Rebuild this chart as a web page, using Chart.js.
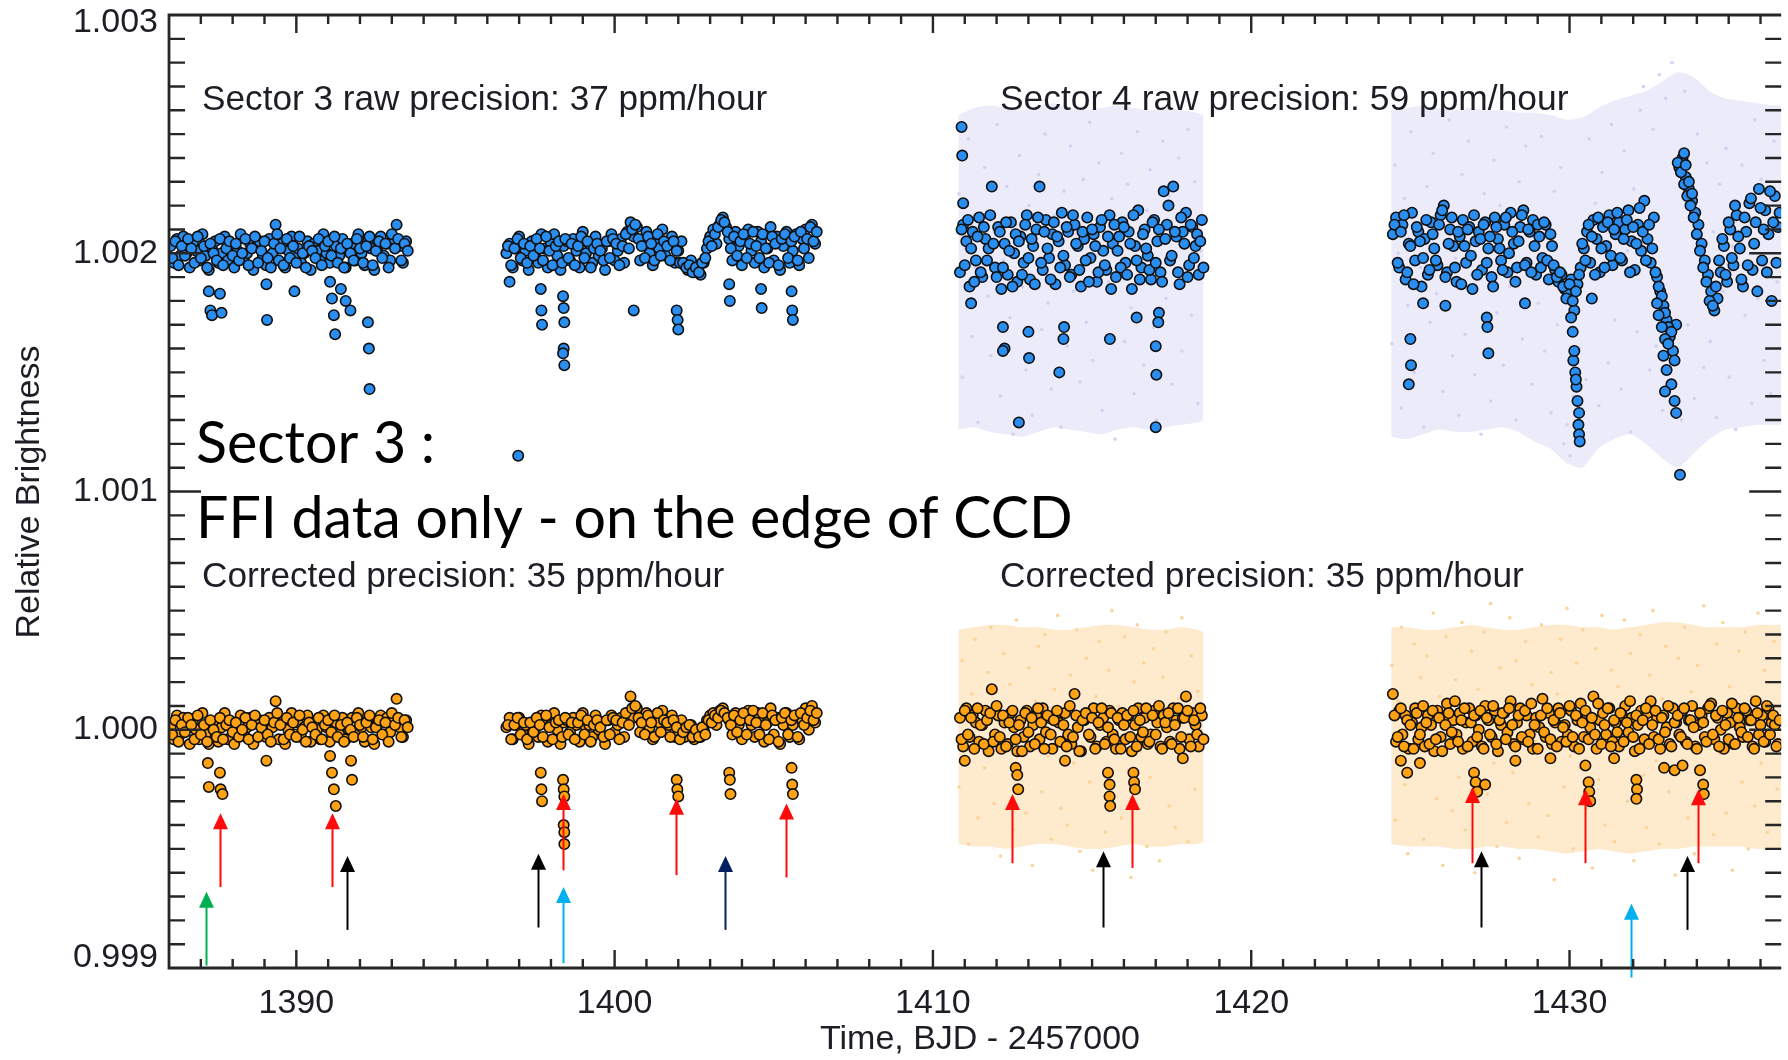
<!DOCTYPE html>
<html>
<head>
<meta charset="utf-8">
<script src="https://cdn.jsdelivr.net/npm/chart.js@4/dist/chart.umd.min.js"></script>
<style>
  html, body { margin: 0; padding: 0; background: #fff; }
  #c { display: block; }
</style>
</head>
<body>
<canvas id="c" width="1788" height="1060"></canvas>
<script>
// ---- data ----
var xTickLabels = [1390, 1400, 1410, 1420, 1430];
var yTickLabels = [0.999, 1.000, 1.001, 1.002, 1.003];

var cadence = 0.1;            // days between binned points (each array), the "Mid" arrays sit half a step later
var s3aStart = 1386.05, s3bStart = 1396.6, s4aStart = 1410.85, s4bStart = 1424.45;
var rawBase = 1.002, corBase = 1.000;

// binned offsets, units of 1e-5
var s3aRaw = [3,-4,6,-1,7,0,-6,4,1,-3, 8,-1,-7,2,5,-4,0,7,-3,4, -6,1,8,-2,0,4,-7,3,5,-1, -5,6,0,12,-3,4,-6,1,7,-1,
  2,-4,0,5,-7,4,1,-3,8,0, -4,5,3,-1,6,-6,1,4,-3,8, 0,-5,5,2,-7,1,7,-1,4,-3, 6,12,3,-4,5];
var s3aRawMid = [-2,5,-5,3,-1,6,2,-4,7,-2, 3,-6,4,0,-3,6,-5,2,5,-1, 4,-3,0,6,-5,2,7,-4,1,5, -2,-6,4,8,2,-5,6,-2,3,-4,
  7,0,-6,3,1,-2,6,-5,3,5, -1,7,-4,2,-6,4,0,-3,6,2, -4,3,7,-5,1,5,-2,4,-6,8, 2,6,-3,4,1];
var s3bRaw = [0,4,-6,2,7,-3,1,-7,5,0, -4,8,2,-6,4,8,-1,-7,3,5, -3,6,1,-6,9,0,4,-4,7,-1, 2,-7,5,8,-3,1,6,-4,9,13,
  7,11,-3,5,9,0,-5,6,2,10, -1,4,7,-4,1,5,-5,-7,-3,-8, -6,-9,-4,2,7,10,4,12,15,11, 6,-3,9,3,-5,7,10,1,-4,9,
  5,-6,2,11,-3,7,-7,3,9,-4, 1,8,-5,6,10,-2,12,4];
var s3bRawMid = [3,-5,2,6,-2,4,-4,3,-1,6, 2,-3,7,1,-5,3,5,-4,6,-2, 4,-5,3,7,-2,5,-6,2,4,1, -3,5,-2,6,4,-5,3,8,2,10,
  12,6,3,-2,7,4,-3,8,-1,5, 3,-3,5,1,-4,-4,-6,-5,-8,-6, -8,-4,-2,5,3,8,11,14,13,9, 2,7,-1,5,8,-2,4,9,3,-2,
  8,2,-4,7,4,-5,6,8,-2,5, 7,-3,9,2,6,11,5,9];
var s4aRaw = [-8,12,5,-14,9,-3,15,-10,6,2, 28,-6,11,-15,4,-9,13,0,-12,7, -4,16,-11,3,10,28,-7,14,-2,8,
  -13,5,17,-5,9,-9,12,3,-14,6, 15,-2,8,-12,11,1,-7,16,4,-10, 7,13,-4,9,-15,3,18,-6,10,-1,
  -11,14,5,-8,26,12,-3,28,7,-13, 9,17,-5,11,3,-9,14];
var s4aRawMid = [10,-5,14,2,-12,7,-8,11,-3,16, 4,-10,9,-6,13,1,-14,8,5,-9, 12,-2,6,-13,15,-4,9,2,-11,13,
  7,-6,-1,11,-10,16,4,-7,9,-3, -12,10,3,-8,14,-5,7,-15,12,1, -6,11,-9,4,16,-3,-11,8,2,-7,
  13,-4,10,-12,6,20,-1,9,-8,15, 4,-10,12,-2,8,5,-6];
var s4bRaw = [8,15,-6,12,-11,4,17,-3,9,-14, 6,-9,13,2,-5,16,20,-8,10,3, -12,7,14,-4,11,-15,5,9,-7,13,
  2,-10,15,6,-3,12,-8,17,4,-6, 11,18,-4,9,14,-9,7,-2,12,-11, 3,-7,-12,-9,-15,-17,-11,-24,-13,-6,
  2,9,-4,14,6,-8,11,3,16,-5, 8,13,-3,10,18,5,-7,12,1,22, 6,-4,15,-10,-16,-22,-28,-35,-41,-30,
  36,40,32,27,22,17,12,4,-3,-9, -16,-24,-19,-8,3,-12,10,-5,16,2, -14,9,21,-7,13,27,-3,18,8,-20,24,11];
var s4bRawMid = [12,-4,9,16,-8,3,-13,11,5,-2, 14,-7,8,-3,12,18,-10,4,15,-6, 9,-13,3,10,-1,16,-9,6,12,-4,
  7,-14,11,2,-7,15,0,9,-12,5, 16,-5,10,-8,3,12,-6,13,-3,8, -5,-10,-8,-14,-19,-13,-20,-16,-9,4,
  -3,12,7,-9,15,2,-6,13,-1,10, 17,-2,6,14,-8,11,4,19,9,-3, 12,2,-8,-14,-18,-25,-31,-33,-45,38,
  34,29,24,20,15,8,1,-6,-12,-20, -22,-14,-3,6,-9,13,-2,20,7,-11, 15,-5,23,4,-16,19,10,-8,26,13,-4,17];

var s3aCor = [1,-4,6,-2,5,1,-6,3,0,-4, 7,-2,-6,3,2,-5,1,7,-4,2, -6,0,6,-1,1,5,-6,3,4,-2, -3,5,1,12,-4,3,-6,0,7,-2,
  3,-3,1,6,-5,2,0,-4,6,1, -5,4,3,-2,5,-4,0,5,-1,7, 1,-5,4,1,-6,2,6,-2,5,-1, 4,13,1,-3,4];
var s3aCorMid = [-2,4,-5,2,-1,5,2,-4,6,-2, 2,-5,4,0,-3,5,-4,2,4,-1, 3,-3,0,5,-4,2,6,-3,1,4, -2,-5,3,7,2,-4,5,-2,3,-3,
  6,0,-5,3,1,-2,5,-4,2,4, -1,6,-3,2,-5,3,0,-3,5,2, -3,3,6,-4,1,4,-2,3,-5,7, 2,5,-3,4,1];
var s3bCor = [1,5,-4,2,5,-1,2,-6,3,1, -3,6,3,-5,2,7,0,-6,3,4, -1,5,2,-5,7,1,2,-3,6,0, 3,-6,4,6,-1,2,5,-3,7,14,
  5,9,-1,3,7,1,-4,5,3,8, 0,2,6,-3,2,4,-3,1,2,-4, 0,-3,0,4,6,7,2,8,9,6, 4,-2,7,2,-4,5,8,2,-3,7,
  3,-5,3,9,-2,5,-6,2,7,-3, 2,6,-4,4,9,0,10,3];
var s3bCorMid = [2,-4,2,5,-2,3,-4,3,-1,5, 2,-3,6,1,-4,3,4,-3,5,-2, 3,-4,3,6,-2,4,-5,2,4,1, -3,4,-2,5,4,-4,3,7,2,9,
  10,5,3,-2,6,3,-3,7,-1,4, 3,-3,4,1,-4,-1,1,2,-3,0, -3,1,-2,4,3,6,5,8,7,5, 2,6,-1,4,7,-2,4,8,3,-2,
  7,2,-4,6,4,-5,5,7,-2,4, 6,-3,7,2,5,8,4,7];
var s4aCor = [5,-7,9,-3,6,3,-5,2,8,-9, 17,-2,6,-8,3,-6,7,1,-9,4, -3,8,-7,2,6,-4,9,-1,5,-8,
  5,3,-5,7,-2,-6,15,1,-9,4, 6,-3,9,-7,2,5,-5,8,-2,-8, 4,7,-4,6,-9,2,9,-3,5,-6,
  -2,8,3,-7,6,1,-5,9,4,-8, 5,14,-4,7,2,-7,6];
var s4aCorMid = [-4,8,-2,5,-8,9,2,-6,4,7, -5,10,-3,6,-7,3,8,-4,2,-9, 7,-1,5,-6,9,3,-8,6,-2,4,
  8,-5,2,-7,10,-3,6,-9,4,7, -2,5,-8,3,9,-6,1,7,-4,5, -8,2,6,-3,8,-7,4,-1,9,-5,
  6,-2,10,-8,3,7,-6,2,9,-3, 5,8,-7,4,-2,9,-4];
var s4bCor = [15,-5,8,-2,6,-8,3,9,-4,1, -7,6,2,-9,8,-3,5,11,-6,4, -2,7,-8,3,9,-5,6,0,-7,10,
  4,-3,8,-9,2,7,-1,12,-6,3, 9,-4,6,-2,-8,5,1,13,-3,7, -6,3,9,-5,2,-2,8,-7,4,11,
  -3,6,1,14,-8,4,7,-2,9,-5, 3,-7,6,10,-1,5,-9,2,8,-4, 7,12,-3,5,-8,6,1,-6,9,3,
  -2,8,-5,4,10,-7,2,6,-3,9, 11,-4,5,0,-8,7,3,-6,9,1, -3,8,4,-7,12,-2,6,-5,9,3,2,-6];
var s4bCorMid = [6,-3,9,-7,4,2,-8,7,-2,10, 3,-6,8,-4,5,-9,2,7,-1,12, -5,4,9,-7,3,6,-3,8,-8,5,
  -2,10,-6,4,7,-4,9,2,-7,6, -3,8,-5,11,2,-8,6,-1,9,-4, 4,-7,7,1,-5,10,-3,6,-8,3,
  8,-4,5,-2,11,-6,2,9,-7,4, -1,7,-5,3,12,-3,6,-8,4,9, -6,2,8,-4,5,-1,10,-7,3,6,
  -3,9,-6,4,1,-8,7,3,-5,10, -2,6,-7,8,2,-4,11,-6,5,-1, 9,-3,4,-8,7,2,-5,10,-2,6,-7,4];

// transit / outlier points: [time, offset 1e-5]
var rawDips = [
  [1387.25,-16],[1387.3,-24],[1387.35,-26],[1387.6,-17],[1387.65,-25],[1389.06,-13],[1389.08,-28],[1389.94,-16],
  [1391.06,-12],[1391.12,-19],[1391.18,-26],[1391.22,-34],[1391.4,-15],[1391.55,-20],[1391.7,-24],
  [1392.25,-29],[1392.28,-40],[1392.3,-57],
  [1396.7,-12],[1396.97,-85],[1397.68,-15],[1397.7,-24],[1397.72,-30],[1398.38,-18],[1398.4,-23],[1398.42,-29],
  [1398.4,-40],[1398.38,-42],[1398.42,-47],[1400.6,-24],[1401.95,-24],[1401.98,-28],[1402.0,-32],
  [1403.6,-13],[1403.62,-20],[1404.6,-15],[1404.62,-23],[1405.56,-16],[1405.58,-24],[1405.6,-28],
  [1410.9,53],[1410.92,41],[1410.95,21],[1411.2,-21],[1412.2,-31],[1412.25,-40],[1412.2,-41],[1412.7,-71],
  [1413.0,-33],[1413.02,-44],[1413.97,-50],[1414.1,-36],[1414.12,-31],[1415.56,-36],[1416.4,-27],
  [1417.0,-39],[1417.02,-51],[1417.0,-73],[1417.1,-25],[1417.08,-29],
  [1425.0,-36],[1425.02,-47],[1424.95,-55],[1425.4,-21],[1426.1,-22],[1427.4,-27],[1427.42,-31],[1427.45,-42],[1428.6,-21],
  [1430.05,-27],[1430.1,-33],[1430.12,-45],[1430.18,-50],[1430.22,-56],[1430.25,-62],[1430.3,-67],[1430.28,-72],
  [1430.3,-76],[1430.32,-79],[1430.15,-41],[1430.2,-53],[1430.7,-19],
  [1432.75,-21],[1432.8,-26],[1432.9,-31],[1433.0,-36],[1432.95,-43],[1433.1,-38],[1433.05,-49],[1433.2,-55],
  [1433.0,-58],[1433.3,-62],[1433.35,-67],[1433.47,-93],[1433.6,42],[1433.65,37],[1433.75,30],[1433.85,25]
];
var corDips = [
  [1387.22,-14],[1387.25,-24],[1387.6,-18],[1387.62,-25],[1387.68,-27],[1389.06,-13],
  [1391.06,-11],[1391.12,-18],[1391.18,-25],[1391.24,-32],[1391.72,-13],[1391.75,-21],
  [1397.68,-18],[1397.7,-25],[1397.72,-30],[1398.38,-21],[1398.4,-25],[1398.42,-28],[1398.4,-40],[1398.42,-43],[1398.42,-48],
  [1401.95,-21],[1401.97,-25],[1402.0,-28],[1403.6,-18],[1403.62,-21],[1403.64,-27],[1405.56,-16],[1405.58,-23],[1405.6,-27],
  [1411.0,-13],[1412.6,-16],[1412.65,-19],[1412.68,-25],[1414.15,-13],[1415.5,-18],[1415.55,-23],[1415.55,-28],[1415.57,-32],
  [1416.3,-18],[1416.32,-22],[1416.35,-25],[1417.85,-12],
  [1424.7,-13],[1424.9,-18],[1425.3,-14],[1427.0,-18],[1427.05,-22],[1427.35,-23],[1427.1,-26],[1428.3,-13],[1429.4,-12],
  [1430.5,-15],[1430.6,-22],[1430.62,-26],[1430.65,-30],[1431.4,-12],[1432.1,-21],[1432.12,-25],[1432.1,-29],
  [1432.97,-16],[1433.3,-17],[1433.55,-15],[1434.1,-17],[1434.2,-23],[1434.22,-27]
];

// faint unbinned sector 4 data
var faintStartA = 1410.82, faintStartB = 1424.42;
var lavCenter = 1.0019, oraCenter = 0.99998;
var lavA = [35,-42,12,58,-25,4,-61,27,46,-8, -33,19,64,-50,7,38,-17,-66,22,51, -4,-39,30,-58,15,43,-22,60,-11,-47,
  26,3,-63,36,-29,55,-6,18,-44,41, -19,65,-35,9,48,-56,24,-2,33,-68, 14,52,-27,39,-13,-49,61,6,-37,28,
  45,-21,-60,17,57,-9,34,-45,2,50, -31,21,62,-16,40,-53,11];
var lavB = [-28,47,10,-55,33,-12,61,-40,21,4, -63,38,-19,52,-7,29,-48,15,66,-33, 8,-58,43,-24,57,1,-41,26,-66,35,
  12,-52,49,-15,30,-37,63,-4,18,-60, 40,-26,55,7,-45,23,-11,59,-31,14, -57,36,-20,46,-70,-62,-75,-50,-68,-30,
  20,-43,58,-8,31,-54,44,2,-36,64, -18,27,-47,53,11,-65,37,-23,70,80, 6,-39,62,-29,85,-56,75,-12,90,-45,
  45,-60,78,-20,34,-51,60,5,-38,48, -27,19,-59,39,-6,54,-42,13,-64,30, 47,-16,24,-53,66,-9,41,-35,17,-49,57,-2];
var oraA = [-22,31,8,-46,17,40,-35,2,-14,26, 45,-29,11,-51,34,-6,21,-40,48,-17, 3,-33,28,-55,14,37,-24,42,-9,-44,
  19,50,-31,6,-38,25,-12,44,-49,9, 32,-20,-57,16,39,-3,-41,27,52,-26, 12,-35,41,-15,-60,22,46,-7,30,-47,
  -18,36,1,-53,24,43,-30,8,-39,15, 49,-11,-45,33,-23,18,-5];
var oraB = [29,-36,14,45,-21,-50,7,38,-13,24, -44,33,-8,51,-27,16,-55,41,2,-32, 23,-18,47,-40,10,35,-58,19,-6,43,
  -25,55,-12,-47,28,4,-37,49,-16,31, -52,12,39,-29,21,-3,-43,46,8,-34, 26,-61,17,40,-22,53,-9,-48,30,-14,
  44,-31,5,-56,36,-19,50,-38,13,27, -45,20,-7,48,-28,34,-53,9,42,-17, -39,25,52,-11,-46,15,37,-24,6,-59,
  32,-2,45,-35,18,-50,29,-15,54,-26, 11,-42,38,-8,47,-33,20,-57,3,35, -20,43,-48,16,-30,51,-12,27,-41,8,39,-23];

// envelope of the dense unbinned cloud
var envTimesA = [1410.8,1411.3,1411.8,1412.3,1412.8,1413.3,1413.8,1414.3,1414.8,1415.3,1415.8,1416.3,1416.8,1417.3,1417.8,1418.3,1418.5];
var envTimesB = [1424.4,1424.9,1425.4,1425.9,1426.4,1426.9,1427.4,1427.9,1428.4,1428.9,1429.4,1429.9,1430.4,1430.9,1431.4,1431.9,
  1432.4,1432.9,1433.4,1433.9,1434.4,1434.9,1435.4,1435.9,1436.4,1436.9];
var lavUpA = [1.00258,1.00261,1.00262,1.00261,1.00260,1.00262,1.00263,1.00261,1.00260,1.00261,1.00262,1.00261,1.00260,1.00261,1.00260,1.00259,1.00258];
var lavLoA = [1.00126,1.00127,1.00125,1.00124,1.00123,1.00125,1.00127,1.00126,1.00125,1.00124,1.00126,1.00127,1.00126,1.00127,1.00128,1.00129,1.00130];
var lavUpB = [1.00260,1.00261,1.00262,1.00261,1.00260,1.00261,1.00260,1.00260,1.00259,1.00259,1.00258,1.00256,1.00257,1.00261,1.00264,1.00266,
  1.00268,1.00272,1.00276,1.00274,1.00268,1.00265,1.00264,1.00263,1.00262,1.00262];
var lavLoB = [1.00123,1.00122,1.00124,1.00126,1.00125,1.00125,1.00126,1.00127,1.00125,1.00121,1.00118,1.00112,1.00110,1.00118,1.00122,1.00124,
  1.00120,1.00114,1.00110,1.00116,1.00122,1.00126,1.00127,1.00128,1.00128,1.00128];
var oraUpA = [1.00042,1.00043,1.00044,1.00044,1.00043,1.00043,1.00042,1.00042,1.00043,1.00044,1.00044,1.00043,1.00042,1.00042,1.00043,1.00042,1.00041];
var oraLoA = [0.99952,0.99951,0.99951,0.99950,0.99951,0.99952,0.99952,0.99951,0.99950,0.99950,0.99951,0.99952,0.99951,0.99951,0.99952,0.99952,0.99953];
var oraUpB = [1.00043,1.00043,1.00042,1.00042,1.00043,1.00044,1.00043,1.00042,1.00042,1.00043,1.00044,1.00044,1.00043,1.00043,1.00042,1.00043,
  1.00044,1.00045,1.00045,1.00044,1.00043,1.00043,1.00043,1.00044,1.00044,1.00044];
var oraLoB = [0.99952,0.99951,0.99951,0.99951,0.99950,0.99950,0.99951,0.99951,0.99950,0.99950,0.99949,0.99948,0.99949,0.99950,0.99949,0.99948,
  0.99949,0.99950,0.99950,0.99951,0.99951,0.99951,0.99951,0.99950,0.99950,0.99950];

// arrows: [time, tip, tail, colour]
var arrows = [
  [1387.15,0.99932,0.99901,'green'], [1387.60,0.99965,0.99934,'red'], [1391.13,0.99965,0.99934,'red'],
  [1391.59,0.99947,0.99916,'black'], [1397.58,0.99948,0.99917,'black'], [1398.38,0.99973,0.99941,'red'],
  [1398.38,0.99934,0.99902,'cyan'], [1401.94,0.99971,0.99939,'red'], [1403.47,0.99947,0.99916,'navy'],
  [1405.38,0.99969,0.99938,'red'], [1412.47,0.99973,0.99944,'red'], [1415.35,0.99949,0.99917,'black'],
  [1416.25,0.99973,0.99942,'red'], [1426.94,0.99976,0.99944,'red'], [1427.22,0.99949,0.99917,'black'],
  [1430.50,0.99975,0.99944,'red'], [1431.93,0.99927,0.99896,'cyan'], [1433.70,0.99947,0.99916,'black'],
  [1434.03,0.99975,0.99944,'red']
];

// ---- helpers ----
function series(start, base, vals) {
  return vals.map(function(v, i){ return {x: +(start + i*cadence).toFixed(3), y: base + v*1e-5}; });
}
function points(list, base) {
  return list.map(function(p){ return {x: p[0], y: base + p[1]*1e-5}; });
}
function env(times, vals) {
  return times.map(function(t, i){ return {x: t, y: vals[i]}; });
}
var half = cadence / 2;

var arrowColors = { red:'#ff0a0a', black:'#000000', green:'#00b050', cyan:'#00b0f0', navy:'#002060' };
var ink = '#1d1d26';
var tickFont = '34px "Liberation Sans", Arial, Helvetica, sans-serif';

var rawData = [].concat(
  series(s3aStart, rawBase, s3aRaw), series(s3aStart + half, rawBase, s3aRawMid),
  series(s3bStart, rawBase, s3bRaw), series(s3bStart + half, rawBase, s3bRawMid),
  series(s4aStart, rawBase, s4aRaw), series(s4aStart + half, rawBase, s4aRawMid),
  series(s4bStart, rawBase, s4bRaw), series(s4bStart + half, rawBase, s4bRawMid),
  points(rawDips, rawBase));
var corData = [].concat(
  series(s3aStart, corBase, s3aCor), series(s3aStart + half, corBase, s3aCorMid),
  series(s3bStart, corBase, s3bCor), series(s3bStart + half, corBase, s3bCorMid),
  series(s4aStart, corBase, s4aCor), series(s4aStart + half, corBase, s4aCorMid),
  series(s4bStart, corBase, s4bCor), series(s4bStart + half, corBase, s4bCorMid),
  points(corDips, corBase));

var faintLav = series(faintStartA, lavCenter, lavA).concat(series(faintStartB, lavCenter, lavB));
var faintOra = series(faintStartA, oraCenter, oraA).concat(series(faintStartB, oraCenter, oraB));

function envSet(data, colour, fill) {
  return { data: data, showLine: true, pointRadius: 0, borderWidth: 0, tension: 0.2,
    backgroundColor: colour, fill: fill, order: 3 };
}

var lavFill = 'rgba(233,233,250,0.9)', oraFill = 'rgba(254,232,200,0.9)';

function fitFont(ctx, text, family, width) {
  ctx.font = '100px ' + family;
  var w = ctx.measureText(text).width;
  return (100 * width / w).toFixed(1) + 'px ' + family;
}

// frame, ticks, labels, arrows, notes
var overlay = {
  id: 'overlay',
  afterDraw: function(chart) {
    var ctx = chart.ctx, a = chart.chartArea, xs = chart.scales.x, ys = chart.scales.y;
    ctx.save();

    arrows.forEach(function(r){
      var px = Math.round(xs.getPixelForValue(r[0])) + 0.5;
      var tip = ys.getPixelForValue(r[1]), tail = ys.getPixelForValue(r[2]);
      var c = arrowColors[r[3]];
      ctx.strokeStyle = c; ctx.fillStyle = c; ctx.lineWidth = 2;
      ctx.beginPath(); ctx.moveTo(px, tail); ctx.lineTo(px, tip + 12); ctx.stroke();
      ctx.beginPath(); ctx.moveTo(px, tip); ctx.lineTo(px - 7.5, tip + 16); ctx.lineTo(px + 7.5, tip + 16);
      ctx.closePath(); ctx.fill();
    });

    ctx.strokeStyle = '#262626'; ctx.lineWidth = 2.8;
    ctx.beginPath();
    ctx.moveTo(a.right, a.top); ctx.lineTo(a.left, a.top); ctx.lineTo(a.left, a.bottom); ctx.lineTo(a.right, a.bottom);
    ctx.stroke();

    ctx.lineWidth = 2.4;
    ctx.beginPath();
    for (var d = 1387; d <= 1436; d++) {
      var px = xs.getPixelForValue(d), L = d % 10 === 0 ? 18 : 9;
      ctx.moveTo(px, a.bottom); ctx.lineTo(px, a.bottom - L);
      ctx.moveTo(px, a.top); ctx.lineTo(px, a.top + L);
    }
    for (var k = 1; k < 40; k++) {
      var py = ys.getPixelForValue(0.999 + k * 0.0001), M = k % 10 === 0 ? 32 : 16;
      ctx.moveTo(a.left, py); ctx.lineTo(a.left + M, py);
      ctx.moveTo(a.right, py); ctx.lineTo(a.right - M, py);
    }
    ctx.stroke();

    ctx.fillStyle = ink; ctx.font = tickFont;
    ctx.textAlign = 'center'; ctx.textBaseline = 'middle';
    xTickLabels.forEach(function(v){ ctx.fillText(String(v), xs.getPixelForValue(v), 1004); });
    ctx.textAlign = 'right';
    yTickLabels.forEach(function(v){
      var py = Math.min(Math.max(ys.getPixelForValue(v), a.top + 8), a.bottom - 10);
      ctx.fillText(v.toFixed(3), 158, py);
    });

    ctx.textAlign = 'center';
    ctx.fillText('Time, BJD - 2457000', 980, 1040);
    ctx.save();
    ctx.translate(30, 492); ctx.rotate(-Math.PI / 2);
    ctx.fillText('Relative Brightness', 0, 0);
    ctx.restore();

    var fam = '"Liberation Sans", Arial, Helvetica, sans-serif';
    ctx.textAlign = 'left';
    [['Sector 3 raw precision: 37 ppm/hour', 202, 100, 565],
     ['Sector 4 raw precision: 59 ppm/hour', 1000, 100, 568],
     ['Corrected precision: 35 ppm/hour', 202, 577, 522],
     ['Corrected precision: 35 ppm/hour', 1000, 577, 524]].forEach(function(n){
      ctx.font = fitFont(ctx, n[0], fam, n[3]);
      ctx.fillText(n[0], n[1], n[2]);
    });

    var big = 'Lato, "Open Sans", sans-serif';
    ctx.fillStyle = '#000';
    ctx.textBaseline = 'alphabetic';
    ctx.font = fitFont(ctx, 'FFI data only - on the edge of CCD', big, 876);
    ctx.fillText('Sector 3 :', 196, 463);
    ctx.fillText('FFI data only - on the edge of CCD', 196, 538);

    ctx.restore();
  }
};

new Chart(document.getElementById('c'), {
  type: 'scatter',
  data: {
    datasets: [
      { label: 'raw', data: rawData, backgroundColor: '#2a8ef0', borderColor: '#101010',
        borderWidth: 1.6, pointRadius: 5.2, order: 1 },
      { label: 'corrected', data: corData, backgroundColor: '#ffa214', borderColor: '#101010',
        borderWidth: 1.6, pointRadius: 5.2, order: 1 },
      { label: 'raw unbinned', data: faintLav, backgroundColor: '#d2d2f1', borderWidth: 0, pointRadius: 1.8, order: 2 },
      { label: 'corrected unbinned', data: faintOra, backgroundColor: '#fbd39c', borderWidth: 0, pointRadius: 1.8, order: 2 },
      envSet(env(envTimesA, lavUpA), lavFill, '+1'),
      envSet(env(envTimesA, lavLoA), lavFill, false),
      envSet(env(envTimesB, lavUpB), lavFill, '+1'),
      envSet(env(envTimesB, lavLoB), lavFill, false),
      envSet(env(envTimesA, oraUpA), oraFill, '+1'),
      envSet(env(envTimesA, oraLoA), oraFill, false),
      envSet(env(envTimesB, oraUpB), oraFill, '+1'),
      envSet(env(envTimesB, oraLoB), oraFill, false)
    ]
  },
  options: {
    responsive: false,
    animation: false,
    devicePixelRatio: 1,
    layout: { padding: { top: 15, left: 0, right: 0, bottom: 0 } },
    plugins: { legend: { display: false }, tooltip: { enabled: false } },
    scales: {
      x: { type: 'linear', min: 1386, max: 1436.65,
        grid: { display: false }, border: { display: false }, ticks: { display: false },
        afterFit: function(s){ s.height = 92; } },
      y: { type: 'linear', min: 0.999, max: 1.003,
        grid: { display: false }, border: { display: false }, ticks: { display: false },
        afterFit: function(s){ s.width = 169; } }
    }
  },
  plugins: [overlay]
});
</script>
</body>
</html>
